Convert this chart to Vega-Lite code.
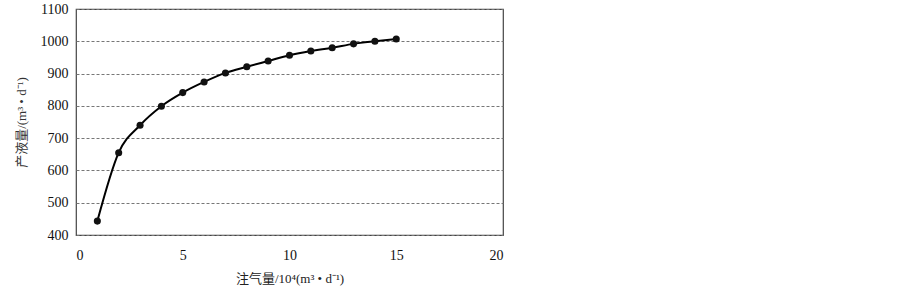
{
  "$schema": "https://vega.github.io/schema/vega-lite/v6.json",
  "autosize": "none",
  "width": 427,
  "height": 226,
  "padding": {"left": 76, "top": 9, "right": 400, "bottom": 51},
  "background": "white",
  "config": {
    "view": {"stroke": "#444", "strokeWidth": 1.2},
    "font": "'Liberation Serif', 'Times New Roman', serif"
  },
  "data": {
    "values": [
      {"x": 1, "y": 443},
      {"x": 2, "y": 655},
      {"x": 3, "y": 740},
      {"x": 4, "y": 799},
      {"x": 5, "y": 841},
      {"x": 6, "y": 874},
      {"x": 7, "y": 902},
      {"x": 8, "y": 921},
      {"x": 9, "y": 939},
      {"x": 10, "y": 957},
      {"x": 11, "y": 970},
      {"x": 12, "y": 980},
      {"x": 13, "y": 992},
      {"x": 14, "y": 1000},
      {"x": 15, "y": 1007}
    ]
  },
  "encoding": {
    "x": {
      "field": "x",
      "type": "quantitative",
      "scale": {"domain": [0, 20], "nice": false, "zero": false},
      "axis": {
        "values": [0, 5, 10, 15, 20],
        "format": "d",
        "title": "注气量/10⁴(m³ • d⁻¹)",
        "titleFont": "'Liberation Serif', 'Noto Sans CJK SC', serif",
        "titleFontWeight": "normal",
        "titleFontSize": 13,
        "titleColor": "#222",
        "titlePadding": 10,
        "labelFont": "'Liberation Serif', serif",
        "labelFontSize": 14,
        "labelColor": "#111",
        "labelPadding": 13,
        "ticks": false,
        "domain": false,
        "grid": false
      }
    },
    "y": {
      "field": "y",
      "type": "quantitative",
      "scale": {"domain": [400, 1100], "nice": false, "zero": false},
      "axis": {
        "values": [400, 500, 600, 700, 800, 900, 1000, 1100],
        "format": "d",
        "title": "产液量/(m³ • d⁻¹)",
        "titleFont": "'Liberation Serif', 'Noto Sans CJK SC', serif",
        "titleFontWeight": "normal",
        "titleFontSize": 13,
        "titleColor": "#333",
        "titlePadding": 12,
        "labelFont": "'Liberation Serif', serif",
        "labelFontSize": 14,
        "labelColor": "#111",
        "labelPadding": 8,
        "ticks": false,
        "domain": false,
        "grid": true,
        "gridColor": "#777",
        "gridDash": [3, 2],
        "gridWidth": 1
      }
    }
  },
  "layer": [
    {
      "mark": {"type": "line", "interpolate": "monotone", "color": "#000", "strokeWidth": 2}
    },
    {
      "mark": {"type": "point", "filled": true, "color": "#111", "size": 50, "opacity": 1}
    }
  ]
}
